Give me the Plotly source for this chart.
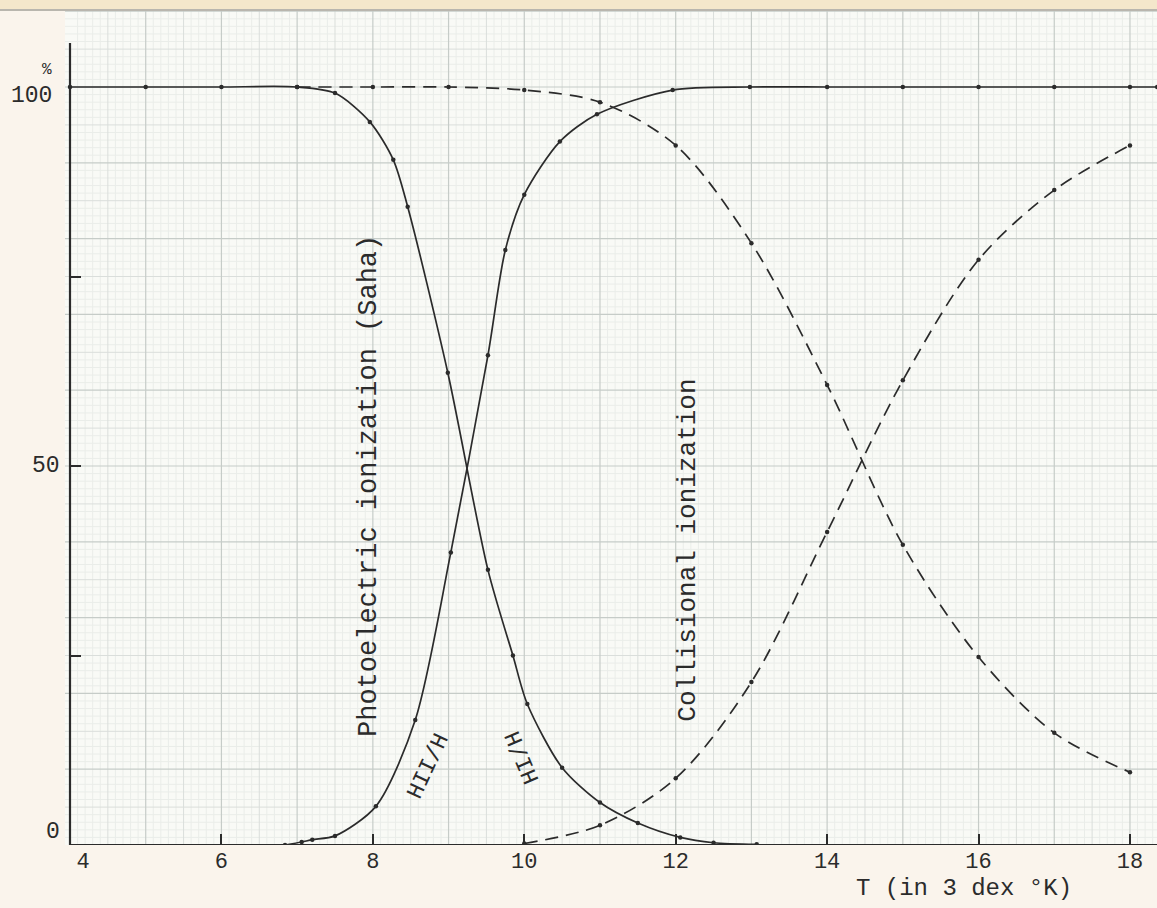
import numpy as np
import plotly.graph_objects as go

# Temperature in units of 10^3 K
t_hi_saha = [4, 5, 6, 7, 7.5, 7.96, 8.27, 8.46, 8.99, 9.52, 9.85, 10.04, 10.5, 11.0, 11.5, 12.06, 12.5, 13.07]
hi_saha = [100, 100, 100, 100, 99.2, 95.4, 90.4, 84.2, 62.3, 36.3, 25.0, 18.6, 10.2, 5.6, 2.9, 1.0, 0.3, 0.1]

t_hii_saha = [6.84, 7.06, 7.2, 7.5, 8.04, 8.56, 9.03, 9.52, 9.75, 10.0, 10.47, 10.96, 11.96, 12.98, 14, 15, 16, 17, 18, 18.36]
hii_saha = [0, 0.4, 0.7, 1.2, 5.1, 16.5, 38.6, 64.6, 78.5, 85.8, 92.8, 96.4, 99.6, 100, 100, 100, 100, 100, 100, 100]

t_hi_coll = [7, 8, 9, 10, 11, 12, 13, 14, 15, 16, 17, 18]
hi_coll = [100, 100, 100, 99.6, 98.0, 92.3, 79.4, 60.7, 39.6, 24.8, 14.8, 9.6]

t_hii_coll = [10.0, 11, 12, 13, 14, 15, 16, 17, 18]
hii_coll = [0.2, 2.6, 8.8, 21.5, 41.3, 61.3, 77.2, 86.4, 92.3]

x_tick_vals = [4, 6, 8, 10, 12, 14, 16, 18]
x_tick_text = ["\u00a0\u00a04", "6", "8", "10", "12", "14", "16", "18"]
y_tick_vals = [25, 50, 75]
y_label_vals = [0, 50, 100]
y_label_text = ["0", "50", "100"]

X_MIN, X_MAX = 3.934, 18.357
Y_MIN, Y_MAX = 0, 110.16

INK = "#2b2b2b"
FONT = "Liberation Mono"

fig = go.Figure()

curve_style = dict(mode="lines+markers", line_shape="spline", showlegend=False,
                   marker=dict(size=4.5, color=INK), hoverinfo="skip")
fig.add_trace(go.Scatter(x=t_hi_saha, y=hi_saha, line=dict(color=INK, width=1.7, smoothing=0.8), **curve_style))
fig.add_trace(go.Scatter(x=t_hii_saha, y=hii_saha, line=dict(color=INK, width=1.7, smoothing=0.8), **curve_style))
fig.add_trace(go.Scatter(x=t_hi_coll, y=hi_coll, line=dict(color=INK, width=1.7, dash="13px,8px", smoothing=0.9), **curve_style))
fig.add_trace(go.Scatter(x=t_hii_coll, y=hii_coll, line=dict(color=INK, width=1.7, dash="13px,8px", smoothing=0.9), **curve_style))

# graph-paper ruling: fine (0.1 / 1%), medium (0.5 / 5%), heavy (1 / 10%)
shapes = []
def rule(vals, vertical, color, width):
    for v in vals:
        if vertical:
            shapes.append(dict(type="line", xref="x", yref="y", x0=v, x1=v, y0=Y_MIN, y1=Y_MAX,
                               line=dict(color=color, width=width), layer="below"))
        else:
            shapes.append(dict(type="line", xref="x", yref="y", x0=X_MIN, x1=X_MAX, y0=v, y1=v,
                               line=dict(color=color, width=width), layer="below"))

fine_x = [v for v in np.round(np.arange(4.0, X_MAX, 0.1), 2) if abs(v * 2 - round(v * 2)) > 1e-6]
fine_y = [v for v in np.arange(1, Y_MAX, 1) if v % 5 != 0]
mid_x = [v for v in np.arange(4.5, X_MAX, 1.0)]
mid_y = [v for v in np.arange(5, Y_MAX, 10)]
major_x = list(np.arange(5, X_MAX, 1.0))
major_y = list(np.arange(10, Y_MAX, 10))
rule(fine_x, True, "#eaede9", 1)
rule(fine_y, False, "#eaede9", 1)
rule(mid_x, True, "#dadedb", 1)
rule(mid_y, False, "#dadedb", 1)
rule(major_x, True, "#c6ccc8", 1.2)
rule(major_y, False, "#c6ccc8", 1.2)

# axes drawn in ink
shapes.append(dict(type="line", xref="x", yref="y", x0=4, x1=4, y0=0, y1=105.8,
                   line=dict(color=INK, width=2.2)))
shapes.append(dict(type="line", xref="x", yref="y", x0=4, x1=X_MAX, y0=0, y1=0,
                   line=dict(color=INK, width=2.2)))
# paper edge at the top
shapes.append(dict(type="rect", xref="paper", yref="paper", x0=-0.1, x1=1.01, y0=1.0, y1=1.03,
                   fillcolor="#f4e7cb", line=dict(width=0), layer="below"))
shapes.append(dict(type="line", xref="paper", yref="paper", x0=-0.01, x1=1.01, y0=1.0, y1=1.0,
                   line=dict(color="#b9b6ae", width=2)))

label_font = dict(family=FONT, size=23, color=INK)
annotations = [
    dict(text="%", x=4, y=102.2, xref="x", yref="y", xshift=-23, showarrow=False,
         font=dict(family=FONT, size=16, color=INK)),
    dict(text="T (in 3 dex \u00b0K)", x=15.81, y=0, xref="x", yref="y", yshift=-43, showarrow=False,
         font=dict(family=FONT, size=24, color=INK)),
    dict(text="Photoelectric ionization (Saha)", x=7.94, y=47.4, xref="x", yref="y", textangle=-90,
         showarrow=False, font=dict(family=FONT, size=27, color=INK)),
    dict(text="Collisional ionization", x=12.17, y=38.9, xref="x", yref="y", textangle=-90,
         showarrow=False, font=dict(family=FONT, size=26, color=INK)),
    dict(text="HII/H", x=8.74, y=10.4, xref="x", yref="y", textangle=-65,
         showarrow=False, font=dict(family=FONT, size=23, color=INK)),
    dict(text="HI/H", x=9.98, y=11.6, xref="x", yref="y", textangle=-113,
         showarrow=False, font=dict(family=FONT, size=23, color=INK)),
]
# percentage labels beside the vertical axis
label_offsets = {0: (-8, 13), 50: (-8, 0), 100: (-16, -9)}
for v, t in zip(y_label_vals, y_label_text):
    dx, dy = label_offsets[v]
    annotations.append(dict(text=t, x=4, y=v, xref="x", yref="y", xanchor="right",
                            xshift=dx, yshift=dy, showarrow=False, font=label_font))

W, H = 1157, 908
fig.update_layout(
    width=W, height=H,
    margin=dict(l=0, r=0, t=10, b=63),
    paper_bgcolor="#faf4ec",
    plot_bgcolor="#f9faf6",
    shapes=shapes,
    annotations=annotations,
    xaxis=dict(range=[X_MIN, X_MAX], domain=[65 / W, 1], showgrid=False, zeroline=False,
               showline=False, tickmode="array", tickvals=x_tick_vals, ticktext=x_tick_text,
               ticks="inside", ticklen=11, tickwidth=2, tickcolor=INK,
               tickfont=dict(family=FONT, size=22, color=INK), automargin=False),
    yaxis=dict(range=[Y_MIN, Y_MAX], showgrid=False, zeroline=False, showline=False,
               anchor="free", position=70 / W,
               tickmode="array", tickvals=y_tick_vals, showticklabels=False,
               ticks="inside", ticklen=10, tickwidth=2, tickcolor=INK, automargin=False),
)

fig.write_html("out.html")
